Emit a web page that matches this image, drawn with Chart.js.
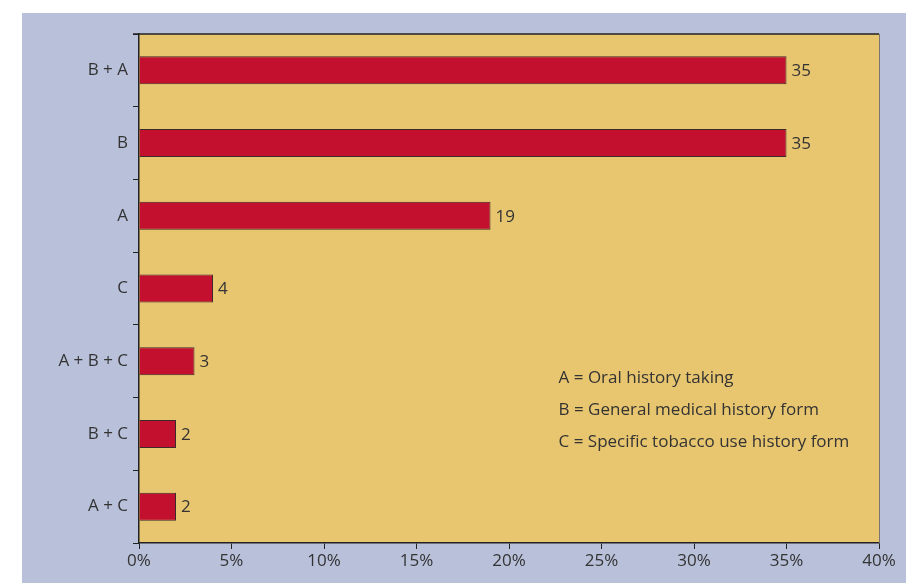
<!DOCTYPE html>
<html>
<head>
<meta charset="utf-8">
<script src="https://cdn.jsdelivr.net/npm/chart.js@4/dist/chart.umd.min.js"></script>
<style>
  html, body { margin: 0; padding: 0; background: #b9c1da; overflow: hidden; }
  #wrap { width: 906px; height: 583px; }
  #chart { display: block; }
</style>
</head>
<body>
<div id="wrap"><canvas id="chart" width="906" height="583"></canvas></div>
<script>
// method combinations, top to bottom
const categories = ['B + A', 'B', 'A', 'C', 'A + B + C', 'B + C', 'A + C'];
// share of respondents (%)
const percentValues = [35, 35, 19, 4, 3, 2, 2];
const xTickValues = [0, 5, 10, 15, 20, 25, 30, 35, 40];
const keyLines = [
    'A = Oral history taking',
    'B = General medical history form',
    'C = Specific tobacco use history form'
];

const TEXT = '#333333';
const FONT = '"Open Sans", sans-serif';
const FONT_SIZE = 17;

// white margin on top/left, blue panel, sand-coloured plot area
const panelBg = {
    id: 'panelBg',
    beforeDraw(chart) {
        const ctx = chart.ctx, a = chart.chartArea;
        ctx.save();
        ctx.fillStyle = '#ffffff';
        ctx.fillRect(0, 0, chart.width, chart.height);
        ctx.fillStyle = '#b9c1da';
        ctx.fillRect(22, 13, chart.width, chart.height);
        ctx.fillStyle = '#e8c670';
        ctx.fillRect(a.left, a.top, a.right - a.left, a.bottom - a.top);
        ctx.restore();
    }
};

// top and right edges of the plot box
const plotFrame = {
    id: 'plotFrame',
    afterDraw(chart) {
        const ctx = chart.ctx, a = chart.chartArea;
        ctx.save();
        ctx.lineWidth = 1.5;
        ctx.strokeStyle = '#222222';
        ctx.beginPath();
        ctx.moveTo(a.left - 6, a.top);
        ctx.lineTo(a.right, a.top);
        ctx.stroke();
        ctx.strokeStyle = '#7a7570';
        ctx.lineWidth = 1;
        ctx.beginPath();
        ctx.moveTo(a.right + 0.5, a.top);
        ctx.lineTo(a.right + 0.5, a.bottom);
        ctx.stroke();
        ctx.restore();
    }
};

// value at the end of each bar
const barValues = {
    id: 'barValues',
    afterDatasetsDraw(chart) {
        const ctx = chart.ctx;
        const meta = chart.getDatasetMeta(0);
        ctx.save();
        ctx.font = FONT_SIZE + 'px ' + FONT;
        ctx.fillStyle = TEXT;
        ctx.textAlign = 'left';
        ctx.textBaseline = 'middle';
        meta.data.forEach((bar, i) => {
            ctx.fillText(String(percentValues[i]), bar.x + 5, bar.y + 1);
        });
        ctx.restore();
    }
};

// key for the letter codes, lower right of the plot
const codeKey = {
    id: 'codeKey',
    afterDraw(chart) {
        const ctx = chart.ctx, a = chart.chartArea;
        const x = a.left + (a.right - a.left) * 0.567;
        let y = a.top + (a.bottom - a.top) * 0.677;
        ctx.save();
        ctx.font = FONT_SIZE + 'px ' + FONT;
        ctx.fillStyle = TEXT;
        ctx.textAlign = 'left';
        ctx.textBaseline = 'middle';
        keyLines.forEach(line => {
            ctx.fillText(line, x, y);
            y += 32;
        });
        ctx.restore();
    }
};

let ctx = document.getElementById('chart').getContext('2d');
let myChart = new Chart(ctx, {
    type: 'bar',
    data: {
        labels: categories,
        datasets: [{
            data: percentValues,
            backgroundColor: '#c2102e',
            borderColor: '#3c2a2a',
            borderWidth: 1,
            borderSkipped: 'left',
            categoryPercentage: 1,
            barPercentage: 0.385
        }]
    },
    options: {
        indexAxis: 'y',
        responsive: false,
        animation: false,
        layout: { padding: { left: 22, top: 34, right: 27, bottom: 0 } },
        plugins: {
            legend: { display: false },
            tooltip: { enabled: false }
        },
        scales: {
            x: {
                min: 0,
                max: 40,
                afterBuildTicks: scale => {
                    scale.ticks = xTickValues.map(v => ({ value: v }));
                },
                afterFit: scale => { scale.height = 40; },
                ticks: {
                    color: TEXT,
                    font: { family: FONT, size: FONT_SIZE },
                    padding: 2,
                    maxRotation: 0,
                    callback: v => v + '%'
                },
                grid: {
                    drawOnChartArea: false,
                    drawTicks: true,
                    tickLength: 6,
                    color: '#222222'
                },
                border: { display: true, color: '#222222', width: 1.5 }
            },
            y: {
                afterFit: scale => { scale.width = 117; },
                ticks: {
                    color: TEXT,
                    font: { family: FONT, size: FONT_SIZE },
                    padding: 5
                },
                grid: {
                    offset: true,
                    drawOnChartArea: false,
                    drawTicks: true,
                    tickLength: 6,
                    color: '#222222'
                },
                border: { display: true, color: '#222222', width: 1.5 }
            }
        }
    },
    plugins: [panelBg, plotFrame, barValues, codeKey]
});
</script>
</body>
</html>
